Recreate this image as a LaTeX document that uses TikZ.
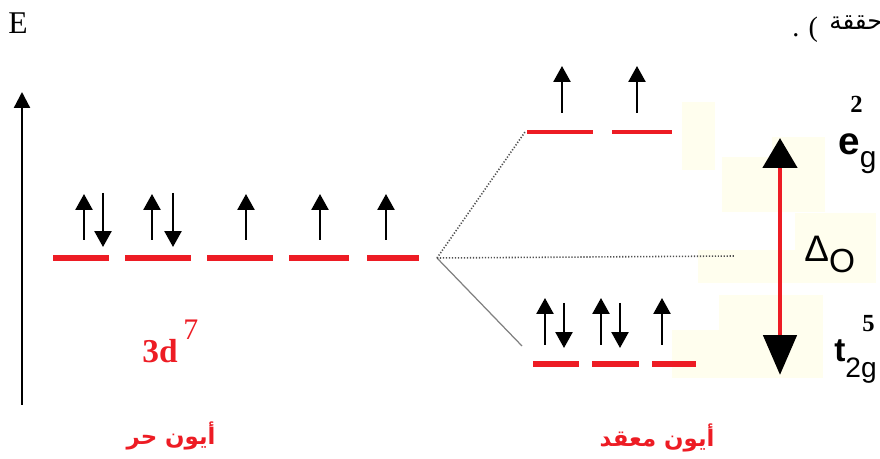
\documentclass[tikz,border=0pt]{standalone}
\usepackage{fontspec}
\setmainfont{Liberation Serif}
\newfontfamily\labelsans{Liberation Sans}
\newfontfamily\arabicfont[Script=Arabic]{DejaVu Sans}
\TeXXeTstate=1
\usetikzlibrary{arrows.meta}
\definecolor{levelred}{RGB}{237,28,36}
\definecolor{scanyellow}{RGB}{255,254,238}
\definecolor{splitgray}{RGB}{80,80,80}
\tikzset{
  level/.style={draw=levelred, line width=3pt},
  eg level/.style={draw=levelred, line width=2.2pt},
  spin up/.style={-{Triangle[width=3.4mm,length=3.2mm]}, line width=1.4pt},
  spin down/.style={-{Triangle[width=3.4mm,length=3.2mm]}, line width=1.4pt},
  energy axis/.style={-{Triangle[width=3.2mm,length=3.2mm]}, line width=1.3pt},
  split line/.style={draw=splitgray, line width=0.7pt},
  gap arrow/.style={
    draw=levelred, line width=2.8pt,
    {Triangle[width=6.8mm,length=6mm,color=black]}-{Triangle[width=6.6mm,length=8mm,color=black]}
  },
  red label/.style={text=levelred, inner sep=0pt},
  sans label/.style={font=\labelsans, inner sep=0pt},
  patch/.style={fill=scanyellow, draw=none}
}

\begin{document}
\begin{tikzpicture}[x=0.02cm, y=-0.02cm]
\useasboundingbox (0,0) rectangle (880,459);

% ------------------------------------------------
% pale scan patches behind the splitting gap
% ------------------------------------------------
\fill[patch] (722,157) rectangle (825,212);
\fill[patch] (772,137) rectangle (825,157);
\fill[patch] (682,102) rectangle (715,170);
\fill[patch] (795,213) rectangle (876,283);
\fill[patch] (698,250) rectangle (795,283);
\fill[patch] (719,295) rectangle (823,378);
\fill[patch] (672,330) rectangle (719,378);

% ------------------------------------------------
% energy axis
% ------------------------------------------------
\coordinate (axisB) at (22,405);
\coordinate (axisT) at (22,92);
\draw[energy axis] (axisB) -- (axisT);
\node[inner sep=0pt, anchor=base, font=\fontsize{18}{18}\selectfont] (E) at (18,34) {E};

% ------------------------------------------------
% free ion: five degenerate d levels, 3d^7
% ------------------------------------------------
\draw[level] (53,258) -- (109,258);
\draw[level] (125,258) -- (191,258);
\draw[level] (207,258) -- (273,258);
\draw[level] (289,258) -- (349,258);
\draw[level] (367,258) -- (419,258);

\draw[spin up]   (84,240)  -- (84,194);
\draw[spin down] (103,193) -- (103,247);
\draw[spin up]   (152,240) -- (152,194);
\draw[spin down] (173,193) -- (173,247);
\draw[spin up]   (246,240) -- (246,194);
\draw[spin up]   (320,240) -- (320,194);
\draw[spin up]   (386,240) -- (386,194);

\node[red label, anchor=base west, font=\bfseries\fontsize{19}{19}\selectfont] (dconf) at (142,363) {3d};
\node[red label, anchor=base west, font=\fontsize{17}{17}\selectfont] (dexp) at (183,340) {7};
\node[red label, anchor=base, font=\arabicfont\bfseries\fontsize{13}{13}\selectfont] (free) at (171,445) {\beginR أيون حر\endR};

% ------------------------------------------------
% splitting in the octahedral field
% ------------------------------------------------
\coordinate (split) at (437,258);
\coordinate (egL)   at (525,132);
\coordinate (t2gL)  at (522,346);
\coordinate (barE)  at (735,256);
\draw[split line, densely dotted, line width=0.9pt] (split) -- (egL);
\draw[split line, draw=gray] (split) -- (t2gL);
\draw[split line, densely dotted, line width=0.9pt] (split) -- (barE);

% e_g levels
\draw[eg level] (527,132) -- (593,132);
\draw[eg level] (612,132) -- (672,132);
\draw[spin up] (562,113) -- (562,66);
\draw[spin up] (637,113) -- (637,66);

% t_2g levels
\draw[level] (533,364) -- (579,364);
\draw[level] (592,364) -- (639,364);
\draw[level] (652,364) -- (696,364);
\draw[spin up]   (545,345) -- (545,298);
\draw[spin down] (564,303) -- (564,348);
\draw[spin up]   (601,345) -- (601,298);
\draw[spin down] (620,303) -- (620,348);
\draw[spin up]   (662,345) -- (662,298);

% gap Delta_O
\coordinate (gapT) at (780,138);
\coordinate (gapB) at (780,375);
\draw[gap arrow] (gapT) -- (gapB);

\node[sans label, anchor=base west, text height=12pt, font=\labelsans\bfseries\fontsize{22}{22}\selectfont] (eg) at (838,155)
  {e\raisebox{-7pt}{\fontsize{17}{17}\selectfont\mdseries g}};
\node[inner sep=0pt, anchor=base west, font=\bfseries\fontsize{14}{14}\selectfont] (egn) at (850,113) {2};
\node[sans label, anchor=base west, font=\labelsans\fontsize{21}{21}\selectfont] (delta) at (804,262)
  {Δ\raisebox{-6pt}{\fontsize{19}{19}\selectfont O}};
\node[sans label, anchor=base west, text height=14pt, font=\labelsans\bfseries\fontsize{19}{19}\selectfont] (t2g) at (834,362)
  {t\raisebox{-9pt}{\fontsize{16}{16}\selectfont\mdseries 2g}};
\node[inner sep=0pt, anchor=base west, font=\bfseries\fontsize{14}{14}\selectfont] (t2gn) at (862,332) {5};

\node[red label, anchor=base, font=\arabicfont\bfseries\fontsize{13}{13}\selectfont] (complex) at (657,447) {\beginR أيون معقد\endR};

% ------------------------------------------------
% cut-off text at the top right
% ------------------------------------------------
\node[inner sep=0pt, anchor=base west, font=\fontsize{16}{16}\selectfont] (dotp) at (792,37) {. (};
\node[inner sep=0pt, anchor=base west, font=\arabicfont\fontsize{14}{14}\selectfont] (topar) at (829,30) {\beginR حققة\endR};
\end{tikzpicture}
\end{document}
